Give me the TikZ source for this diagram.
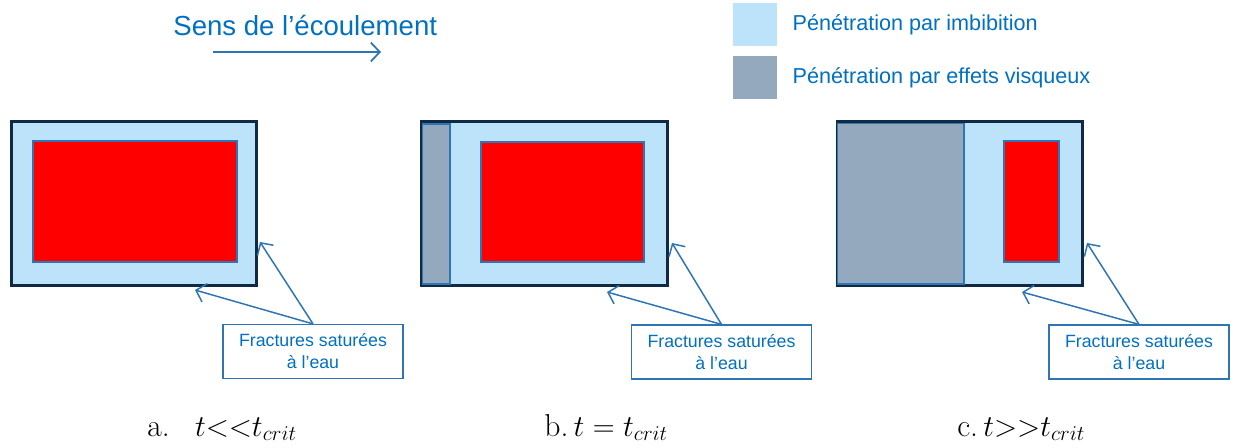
\documentclass[tikz,border=0pt]{standalone}
\usepackage{fontspec}
\newfontfamily\arial{Liberation Sans}
\usetikzlibrary{positioning, arrows.meta}

\definecolor{imbib}{RGB}{189,227,251}
\definecolor{visq}{RGB}{148,169,189}
\definecolor{cadre}{RGB}{16,42,67}
\definecolor{trait}{RGB}{46,117,182}
\definecolor{texte}{RGB}{0,112,192}

\begin{document}
\begin{tikzpicture}[x=0.02cm, y=-0.02cm,
    >={Straight Barb[length=1.8mm,width=3.8mm]},
    bloc/.style={draw=cadre, line width=1.7pt, fill=imbib,
                 minimum width=4.92cm, minimum height=3.28cm, inner sep=0pt},
    zone/.style={draw=trait, line width=0.6pt},
    bulle/.style={draw=trait, line width=0.7pt, fill=white, text=texte,
                  minimum width=3.6cm, minimum height=1.08cm, align=center,
                  font=\arial\fontsize{10.1}{12.5}\selectfont},
    carre/.style={minimum width=0.88cm, minimum height=0.86cm, inner sep=0pt},
    legende/.style={text=texte, inner sep=0pt, font=\arial\fontsize{12.3}{14}\selectfont},
    fleche/.style={->, draw=trait, line width=0.85pt},
    legtitre/.style={font=\fontsize{18}{21}\selectfont, inner sep=0pt, anchor=base west}]
  \useasboundingbox (0,0) rectangle (1235,447);

  % sens de l'ecoulement
  \node[text=texte, inner sep=0pt, anchor=base west,
        font=\arial\fontsize{15.7}{18}\selectfont] (sens) at (173,35) {Sens de l’écoulement};
  \coordinate (s1) at (213,52);
  \coordinate (s2) at (381,52);
  \draw[->, draw=trait, line width=1pt] (s1) -- (s2);

  % legende
  \node[carre, fill=imbib] (legI) at (755,24.5) {};
  \node[carre, fill=visq]  (legV) at (755,77.5) {};
  \node[legende] (txtI) [right=0.3cm of legI] {Pénétration par imbibition};
  \node[legende] (txtV) [right=0.3cm of legV] {Pénétration par effets visqueux};

  % a. t << tcrit
  \node[bloc] (blocA) at (134,203.5) {};
  \draw[zone, fill=red] (33,141) rectangle (237,262);
  \node[bulle] (bulA) at (313,351.5) {Fractures saturées\\à l’eau};
  \coordinate (a1) at (260,242);
  \coordinate (a2) at (195,290);
  \draw[fleche] (bulA.north) -- (a1);
  \draw[fleche] (bulA.north) -- (a2);

  % b. t = tcrit
  \node[bloc] (blocB) at (544.5,203.5) {};
  \draw[zone, fill=visq] (422.5,124) rectangle (450,284);
  \draw[zone, fill=red] (481,142) rectangle (644,262);
  \node[bulle] (bulB) at (721.5,352) {Fractures saturées\\à l’eau};
  \coordinate (b1) at (672,243);
  \coordinate (b2) at (607,292);
  \draw[fleche] (bulB.north) -- (b1);
  \draw[fleche] (bulB.north) -- (b2);

  % c. t >> tcrit
  \node[bloc] (blocC) at (960,203.5) {};
  \draw[zone, fill=visq] (837.5,123.5) rectangle (964,284);
  \draw[zone, fill=red] (1004,141) rectangle (1059,262);
  \node[bulle] (bulC) at (1139,352) {Fractures saturées\\à l’eau};
  \coordinate (c1) at (1087,243);
  \coordinate (c2) at (1022,292);
  \draw[fleche] (bulC.north) -- (c1);
  \draw[fleche] (bulC.north) -- (c2);

  % legendes du bas
  \node[legtitre] (titA) at (147,436) {a.\hspace{0.8em}$t{<}{<}t_{crit}$};
  \node[legtitre] (titB) at (544,436) {b.\,$t=t_{crit}$};
  \node[legtitre] (titC) at (957,436) {c.\,$t{>}{>}t_{crit}$};
\end{tikzpicture}
\end{document}
